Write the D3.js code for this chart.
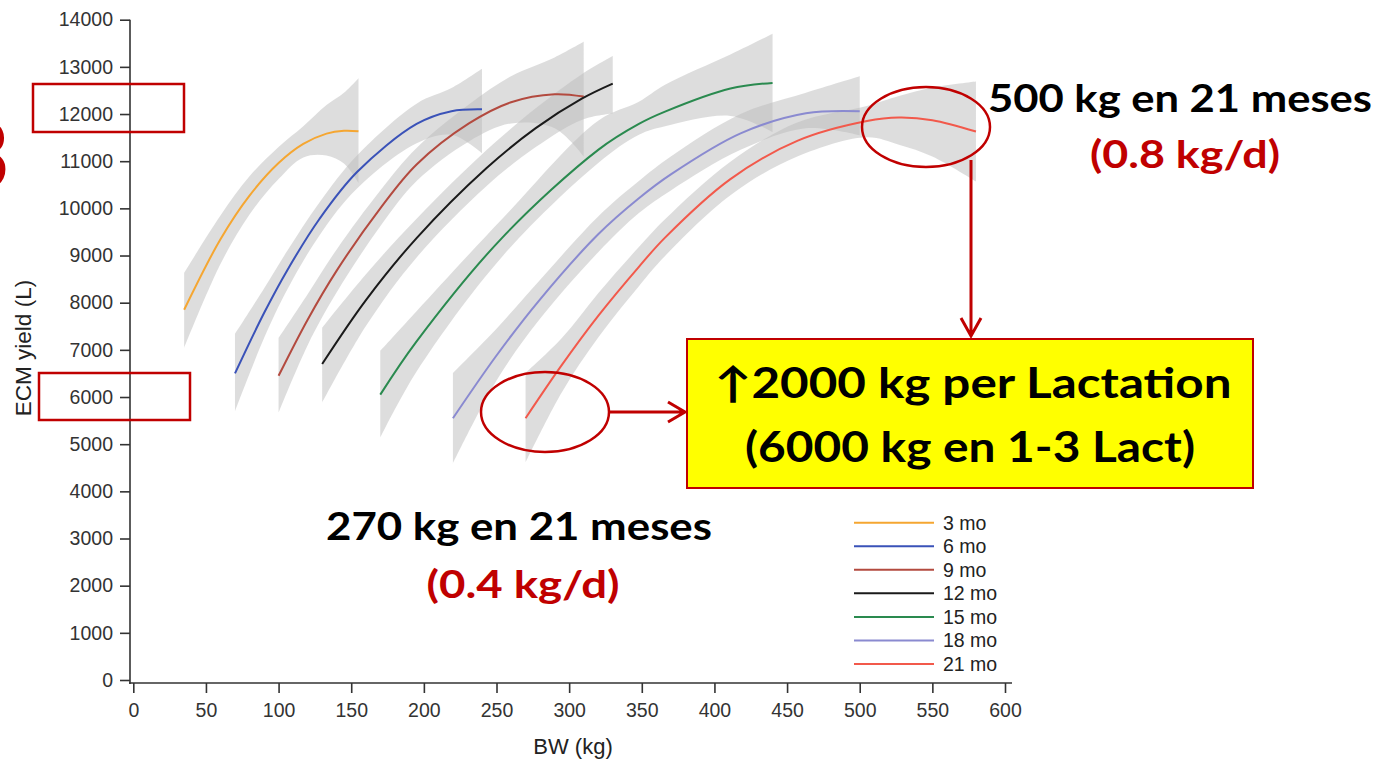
<!DOCTYPE html>
<html>
<head>
<meta charset="utf-8">
<script src="https://cdn.jsdelivr.net/npm/d3@7"></script>
<style>
  body { margin: 0; background: #fff; }
  svg { display: block; font-family: "Liberation Sans", Arial, sans-serif; }
  .axis text { font-size: 19.5px; fill: #333; }
  .axis line { stroke: #333; stroke-width: 1.6px; }
  .note { font-family: Lato, "Noto Sans", sans-serif; font-weight: 700; }
</style>
</head>
<body>
<div id="chart"></div>
<script>
// series names (age at first calving group)
var seriesNames = ["3 mo", "6 mo", "9 mo", "12 mo", "15 mo", "18 mo", "21 mo"];
var seriesColors = ["#f5a631", "#3a52b8", "#b34a3f", "#1a1a1a", "#2a8a4f", "#8a8ad0", "#f2594b"];

// BW (kg), ECM yield (L) and band limits
var bw3  = [35, 60, 80, 100, 117, 133, 145, 155];
var ecm3 = [7850, 9345, 10270, 10960, 11365, 11585, 11645, 11635];
var hi3  = [8630, 9850, 10680, 11300, 11740, 12190, 12450, 12760];
var lo3  = [7040, 8820, 9870, 10620, 11080, 11120, 10950, 10540];

var bw6  = [70, 90, 106, 128, 154, 195, 219, 240];
var ecm6 = [6500, 7780, 8690, 9770, 10770, 11790, 12060, 12100];
var hi6  = [7340, 8300, 9100, 10120, 11120, 12220, 12550, 12960];
var lo6  = [5700, 7250, 8280, 9420, 10420, 11380, 11560, 11170];

var bw9  = [100, 120, 140, 170, 195, 231, 260, 290, 310];
var ecm9 = [6450, 7640, 8680, 10000, 10930, 11800, 12250, 12420, 12370];
var hi9  = [7250, 8180, 9130, 10380, 11280, 12200, 12800, 13200, 13530];
var lo9  = [5670, 7100, 8220, 9620, 10580, 11420, 11800, 11700, 11100];

var bw12  = [130, 160, 195, 243, 277, 309, 330];
var ecm12 = [6700, 8050, 9370, 10850, 11700, 12330, 12645];
var hi12  = [7470, 8600, 9780, 11230, 12120, 12850, 13230];
var lo12  = [5880, 7500, 8960, 10470, 11300, 11880, 12010];

var bw15  = [170, 195, 254, 320, 348, 366, 411, 440];
var ecm15 = [6050, 7180, 9380, 11240, 11790, 12050, 12540, 12660];
var hi15  = [6980, 7820, 9780, 11860, 12260, 12620, 13260, 13700];
var lo15  = [5140, 6540, 8980, 10960, 11560, 11740, 11960, 11620];

var bw18  = [220, 250, 279, 320, 348, 370, 418, 463, 500];
var ecm18 = [5550, 6880, 8035, 9450, 10214, 10720, 11590, 12016, 12060];
var hi18  = [6510, 7450, 8450, 9830, 10580, 11100, 12000, 12450, 12800];
var lo18  = [4590, 6350, 7620, 9070, 9900, 10380, 11240, 11700, 11550];

var bw21  = [270, 295, 320, 348, 366, 411, 457, 505, 527, 550, 580];
var ecm21 = [5550, 6680, 7720, 8760, 9380, 10620, 11430, 11850, 11925, 11870, 11630];
var hi21  = [6510, 7250, 8200, 9180, 9770, 10990, 11820, 12170, 12380, 12560, 12690];
var lo21  = [4610, 6100, 7260, 8350, 8990, 10280, 11100, 11510, 11350, 11100, 10570];

var xTicks = d3.range(0, 601, 50);
var yTicks = d3.range(0, 14001, 1000);

var width = 1378, height = 760;

var svg = d3.select("#chart").append("svg")
    .attr("width", width)
    .attr("height", height);

var x = d3.scaleLinear().domain([0, 600]).range([133.3, 1005]);
var y = d3.scaleLinear().domain([0, 14000]).range([680, 19.7]);

// build series list from the arrays
var cols = [[bw3, ecm3, hi3, lo3], [bw6, ecm6, hi6, lo6], [bw9, ecm9, hi9, lo9],
            [bw12, ecm12, hi12, lo12], [bw15, ecm15, hi15, lo15],
            [bw18, ecm18, hi18, lo18], [bw21, ecm21, hi21, lo21]];
var series = cols.map(function(c, i) {
    return {
        name: seriesNames[i],
        color: seriesColors[i],
        values: c[0].map(function(b, j) {
            return { bw: b, ecm: c[1][j], hi: c[2][j], lo: c[3][j] };
        })
    };
});

var smooth = d3.curveCatmullRom.alpha(0.5);

var area = d3.area()
    .curve(smooth)
    .x(function(d) { return x(d.bw); })
    .y0(function(d) { return y(d.lo); })
    .y1(function(d) { return y(d.hi); });

var line = d3.line()
    .curve(smooth)
    .x(function(d) { return x(d.bw); })
    .y(function(d) { return y(d.ecm); });

// confidence bands first
svg.append("g").selectAll("path")
    .data(series)
    .enter().append("path")
    .attr("d", function(d) { return area(d.values); })
    .attr("fill", "#bbb")
    .attr("fill-opacity", 0.5);

// fitted curves
svg.append("g").selectAll("path")
    .data(series)
    .enter().append("path")
    .attr("d", function(d) { return line(d.values); })
    .attr("fill", "none")
    .attr("stroke", function(d) { return d.color; })
    .attr("stroke-width", 2);

// axes
var yAxis = svg.append("g")
    .attr("class", "axis")
    .attr("transform", "translate(130,0)")
    .call(d3.axisLeft(y).tickValues(yTicks).tickSize(10).tickPadding(7).tickFormat(d3.format("d")));
yAxis.select(".domain").remove();
yAxis.append("line")
    .attr("x1", 0).attr("x2", 0)
    .attr("y1", y(14000)).attr("y2", 684);

var xAxis = svg.append("g")
    .attr("class", "axis")
    .attr("transform", "translate(0,683)")
    .call(d3.axisBottom(x).tickValues(xTicks).tickSize(10).tickPadding(10).tickFormat(d3.format("d")));
xAxis.select(".domain").remove();
xAxis.append("line")
    .attr("x1", 129).attr("x2", 1012)
    .attr("y1", 0).attr("y2", 0);

svg.append("text")
    .attr("x", 573)
    .attr("y", 754)
    .attr("text-anchor", "middle")
    .style("font-size", "22px")
    .style("fill", "#222")
    .text("BW (kg)");

svg.append("text")
    .attr("transform", "translate(31,348) rotate(-90)")
    .attr("text-anchor", "middle")
    .style("font-size", "22.5px")
    .style("fill", "#222")
    .text("ECM yield (L)");

// legend
var legend = svg.selectAll("g.legend")
    .data(series)
    .enter().append("g")
    .attr("class", "legend")
    .attr("transform", function(d, i) { return "translate(854," + (522.7 + i * 23.55) + ")"; });

legend.append("line")
    .attr("x1", 0).attr("x2", 80)
    .attr("stroke", function(d) { return d.color; })
    .attr("stroke-width", 2);

legend.append("text")
    .attr("x", 89)
    .attr("y", 7)
    .style("font-size", "19.5px")
    .style("fill", "#222")
    .text(function(d) { return d.name; });

// slide annotations
var red = "#c00000";
svg.append("text")
    .attr("class", "note")
    .attr("x", 10)
    .attr("y", 190)
    .attr("text-anchor", "end")
    .style("font-size", "96px")
    .style("fill", red)
    .text("3");

svg.append("rect").attr("x", 33).attr("y", 84).attr("width", 151).attr("height", 48)
    .attr("fill", "none").attr("stroke", red).attr("stroke-width", 2.5);
svg.append("rect").attr("x", 39).attr("y", 373).attr("width", 151).attr("height", 47)
    .attr("fill", "none").attr("stroke", red).attr("stroke-width", 2.5);

svg.append("ellipse").attr("cx", 926).attr("cy", 127).attr("rx", 64).attr("ry", 40)
    .attr("fill", "none").attr("stroke", red).attr("stroke-width", 2.5);
svg.append("ellipse").attr("cx", 545).attr("cy", 412).attr("rx", 64).attr("ry", 40)
    .attr("fill", "none").attr("stroke", red).attr("stroke-width", 2.5);

// arrows
svg.append("path")
    .attr("d", "M971,160 L971,336 M961,318 L971,336 L981,318")
    .attr("fill", "none").attr("stroke", red).attr("stroke-width", 3);
svg.append("path")
    .attr("d", "M609,412 L685,412 M668,402 L685,412 L668,422")
    .attr("fill", "none").attr("stroke", red).attr("stroke-width", 3);

// yellow box
svg.append("rect").attr("x", 687).attr("y", 339).attr("width", 566).attr("height", 149)
    .attr("fill", "#ffff00").attr("stroke", red).attr("stroke-width", 2);

function note(txt, cx, base, size, len, color) {
    svg.append("text")
        .attr("class", "note")
        .attr("x", cx)
        .attr("y", base)
        .attr("text-anchor", "middle")
        .attr("textLength", len)
        .attr("lengthAdjust", "spacingAndGlyphs")
        .style("font-size", size + "px")
        .style("fill", color)
        .text(txt);
}

note("\u21912000 kg per Lactation", 973, 398, 42, 517, "#000");
note("(6000 kg en 1-3 Lact)", 970, 462, 42, 450, "#000");
note("500 kg en 21 meses", 1180, 112, 38, 384, "#000");
note("(0.8 kg/d)", 1185, 168, 38, 190, red);
note("270 kg en 21 meses", 519, 540, 38, 386, "#000");
note("(0.4 kg/d)", 523, 598, 38, 193, red);
</script>
</body>
</html>
